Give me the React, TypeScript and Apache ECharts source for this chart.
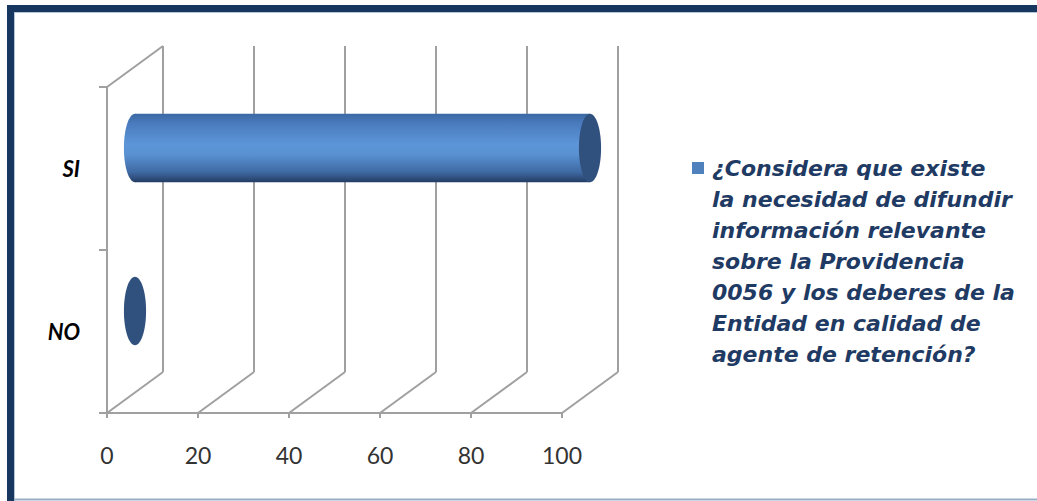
import React, { useEffect, useRef } from 'react';
import * as echarts from 'echarts';

const CATEGORIES = ['NO', 'SI'];
const VALUES = [0, 100];
const X_TICKS = [0, 20, 40, 60, 80, 100];
const SERIES_NAME_LINES = [
  '¿Considera que existe',
  'la necesidad de difundir',
  'información relevante',
  'sobre la Providencia',
  '0056 y los deberes de la',
  'Entidad en calidad de',
  'agente de retención?',
];
const SERIES_NAME = SERIES_NAME_LINES.join('\n');

const DX = 56;
const DY = -41;
const GRID = '#a0a0a0';
const NAVY = '#17375e';
const CAP = '#30517d';
const SERIES_COLOR = '#4f81bd';

export default function App() {
  const ref = useRef<HTMLDivElement>(null);
  useEffect(() => {
    document.body.style.margin = '0';
    const chart = echarts.init(ref.current!, undefined, { renderer: 'svg' });
    const lineStyle = { stroke: GRID, lineWidth: 2 };
    const option: any = {
      animation: false,
      grid: { left: 107, top: 87, width: 455, height: 326 },
      xAxis: {
        type: 'value',
        min: 0,
        max: 100,
        interval: 20,
        axisLine: { show: true, lineStyle: { color: GRID, width: 2 } },
        axisTick: { show: true, length: 5, lineStyle: { color: GRID, width: 2 } },
        splitLine: { show: false },
        axisLabel: { margin: 30, fontSize: 23, color: '#333', fontFamily: 'Lato' },
      },
      yAxis: {
        type: 'category',
        data: CATEGORIES,
        axisLine: { show: true, lineStyle: { color: GRID, width: 2 } },
        axisTick: { show: true, length: 8, lineStyle: { color: GRID, width: 2 } },
        splitLine: { show: false },
        axisLabel: {
          margin: 27,
          fontSize: 22,
          fontWeight: 'bold',
          fontStyle: 'italic',
          color: '#000',
          fontFamily: 'Lato',
        },
      },
      legend: { show: false, data: [SERIES_NAME] },
      graphic: [
        { type: 'rect', shape: { x: 7, y: 5, width: 1030, height: 7 }, style: { fill: NAVY } },
        { type: 'rect', shape: { x: 7, y: 5, width: 7, height: 496 }, style: { fill: NAVY } },
        { type: 'line', shape: { x1: 14, y1: 12.5, x2: 1037, y2: 12.5 }, style: { stroke: '#b3c3d8', lineWidth: 1 } },
        { type: 'line', shape: { x1: 14.5, y1: 12, x2: 14.5, y2: 501 }, style: { stroke: '#b3c3d8', lineWidth: 1 } },
        { type: 'line', shape: { x1: 14, y1: 499.5, x2: 1037, y2: 499.5 }, style: { stroke: '#9aaec6', lineWidth: 2 } },
        { type: 'rect', shape: { x: 692, y: 162, width: 12, height: 12 }, style: { fill: SERIES_COLOR } },
        {
          type: 'text',
          x: 712,
          y: 152.5,
          style: {
            text: SERIES_NAME,
            fontFamily: 'DejaVu Sans',
            fontWeight: 'bold',
            fontStyle: 'italic',
            fontSize: 22,
            lineHeight: 31,
            fill: '#1f3b64',
            align: 'left',
            verticalAlign: 'top',
          },
        },
      ],
      series: [
        {
          type: 'custom',
          name: 'frame',
          clip: false,
          silent: true,
          encode: { x: 0, y: 1 },
          data: X_TICKS.map((v) => [v, 0]),
          renderItem: (params: any, api: any) => {
            const cs = params.coordSys;
            const v = api.value(0);
            const x = api.coord([v, 0])[0];
            const top = cs.y;
            const bottom = cs.y + cs.height;
            const children: any[] = [
              { type: 'line', shape: { x1: x, y1: bottom, x2: x + DX, y2: bottom + DY }, style: lineStyle },
              { type: 'line', shape: { x1: x + DX, y1: bottom + DY, x2: x + DX, y2: top + DY }, style: lineStyle },
            ];
            if (params.dataIndex === 0) {
              children.push({
                type: 'line',
                shape: { x1: cs.x, y1: top, x2: cs.x + DX, y2: top + DY },
                style: lineStyle,
              });
            }
            return { type: 'group', children };
          },
        },
        {
          type: 'custom',
          name: SERIES_NAME,
          clip: false,
          itemStyle: { color: SERIES_COLOR },
          encode: { x: 0, y: 1 },
          data: VALUES.map((v, i) => [v, i]),
          renderItem: (params: any, api: any) => {
            const v = api.value(0);
            const c = api.value(1);
            const p0 = api.coord([0, c]);
            const p1 = api.coord([v, c]);
            const band = params.coordSys.height / CATEGORIES.length;
            const h = band * 0.21;
            const rx = band * 0.068;
            const cy = p0[1] + DY / 2;
            const x0 = p0[0] + DX / 2;
            const x1 = p1[0] + DX / 2;
            const grad = new echarts.graphic.LinearGradient(0, 0, 0, 1, [
              { offset: 0, color: '#3c69a3' },
              { offset: 0.15, color: '#4a7cbf' },
              { offset: 0.45, color: '#5d96d8' },
              { offset: 0.6, color: '#5890d1' },
              { offset: 0.85, color: '#3f6aa3' },
              { offset: 1, color: '#243d63' },
            ]);
            const children: any[] = [];
            if (x1 > x0) {
              children.push({ type: 'ellipse', shape: { cx: x0, cy, rx, ry: h }, style: { fill: grad } });
              children.push({ type: 'rect', shape: { x: x0, y: cy - h, width: x1 - x0, height: 2 * h }, style: { fill: grad } });
            }
            children.push({ type: 'ellipse', shape: { cx: x1, cy, rx, ry: h }, style: { fill: CAP } });
            return { type: 'group', children };
          },
        },
      ],
    };
    chart.setOption(option);
    return () => chart.dispose();
  }, []);
  return (
    <div
      ref={ref}
      style={{ position: 'fixed', left: 0, top: 0, width: 1037, height: 501, background: '#fff' }}
    />
  );
}
